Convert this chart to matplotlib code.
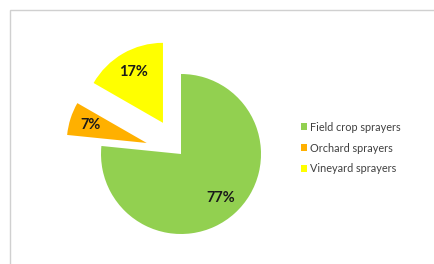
import matplotlib.pyplot as plt
from matplotlib.patches import Rectangle

# sprayer types and their share
labels = ["Field crop sprayers", "Orchard sprayers", "Vineyard sprayers"]
shares = [76.6, 6.7, 16.7]
colors = ["#92D050", "#FFB000", "#FFFF00"]
explode = [0, 0.45, 0.45]

W, H = 435, 264
R = 80.0  # pie radius in pixels

fig = plt.figure(figsize=(W / 100, H / 100), dpi=100)
fig.patch.set_facecolor("white")

# chart area frame (runs off the right and bottom edge)
fig.patches.append(Rectangle((10 / W, -0.1), 1.2, (H - 10) / H + 0.1,
                             transform=fig.transFigure, fill=False,
                             edgecolor="#D0D0D0", linewidth=1))

# axes in units of the pie radius so explode works as a fraction
ax = fig.add_axes([0, 0, 1, 1])
ax.axis("off")

wedges, texts, autotexts = ax.pie(
    shares, colors=colors, explode=explode, startangle=90,
    counterclock=False, radius=1, center=(181 / R, (H - 154) / R),
    autopct="%.0f%%", pctdistance=0.74,
    textprops=dict(fontsize=10.5, fontweight="bold", color="#1a1a1a",
                   family="Lato"))
ax.set_xlim(0, W / R)
ax.set_ylim(0, H / R)

leg = ax.legend(wedges, labels, loc="upper left",
                bbox_to_anchor=(291 / W, (H - 112) / H),
                bbox_transform=fig.transFigure, frameon=False,
                handlelength=0.6, handleheight=0.6, handletextpad=0.3,
                labelspacing=0.9, prop=dict(family="Lato", size=7.8))
for t in leg.get_texts():
    t.set_color("#404040")

fig.savefig("out.png", dpi=100)
